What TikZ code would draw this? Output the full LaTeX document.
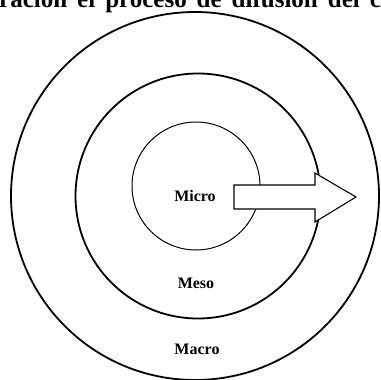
\documentclass[tikz,border=0pt]{standalone}
\usepackage{fontspec}
\setmainfont{Liberation Serif}
\begin{document}
\begin{tikzpicture}[x=1pt,y=-1pt,
  ring/.style={draw=black,line width=1.8pt},
  innerring/.style={draw=black,line width=1pt},
  lbl/.style={font=\fontsize{16}{16}\selectfont\bfseries,inner sep=0pt},
  bigarrow/.style={draw=black,fill=white,line width=1.1pt,line join=miter}]
\useasboundingbox (0,0) rectangle (381,380);
\clip (0,0) rectangle (381,380);
\node[anchor=base west,inner sep=0pt,font=\fontsize{25}{25}\selectfont\bfseries] (title) at (-1,8) {\spaceskip=10pt\relax ración el proceso de difusión del c};
\node[ring,circle,minimum size=368pt,inner sep=0pt] (macro) at (195,196) {};
\node[ring,circle,minimum size=245pt,inner sep=0pt] (meso) at (198,196) {};
\node[innerring,circle,minimum size=128pt,inner sep=0pt] (micro) at (196,186) {};
\coordinate (a1) at (234,185);
\coordinate (a2) at (315,185);
\coordinate (a3) at (315,173);
\coordinate (tip) at (356,197);
\coordinate (a5) at (315,222);
\coordinate (a6) at (315,209);
\coordinate (a7) at (234,209);
\draw[bigarrow] (a1) -- (a2) -- (a3) -- (tip) -- (a5) -- (a6) -- (a7) -- cycle;
\node[lbl] (tmicro) at (195,196) {Micro};
\node[lbl] (tmeso) at (196,283) {Meso};
\node[lbl] (tmacro) at (197,349) {Macro};
\end{tikzpicture}
\end{document}
